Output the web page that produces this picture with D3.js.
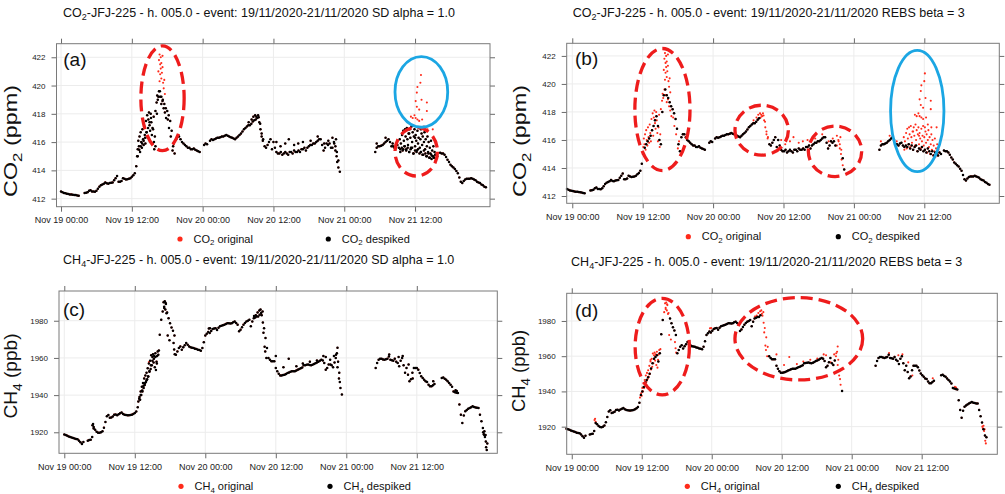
<!DOCTYPE html>
<html>
<head>
<meta charset="utf-8">
<script src="https://cdn.jsdelivr.net/npm/d3@7"></script>
<style>
body { margin: 0; background: #fff; }
svg { display: block; font-family: "Liberation Sans", Arial, sans-serif; }
</style>
</head>
<body>
<svg id="chart" width="1005" height="494"></svg>
<script>
"use strict";

// time is counted in hours from Nov 19 2020 00:00, series are sampled every 15 minutes
var startTime = new Date(2020, 10, 19, 0, 0);
var stepHours = 0.25;
var timeTicks = [0, 12, 24, 36, 48, 60];
var co2Ticks = [412, 414, 416, 418, 420, 422];
var ch4Ticks = [1920, 1940, 1960, 1980];

var co2Series = [
    412.5, 412.45, 412.4, 412.38,
    412.35, 412.33, 412.3, 412.3,
    412.28, 412.26, 412.25, 412.22,
    412.2, null, null, null,
    412.4, 412.42, 412.45, 412.55,
    412.6, 412.5, 412.5, 412.48,
    412.55, 412.7, 412.85, 412.95,
    413.0, 413.05, 413.15, 413.08,
    413.05, 413.1, 413.12, 413.15,
    413.3, 413.45, 413.6, 413.2,
    413.2, 413.25, 413.45, 413.4,
    413.35, 413.38, 413.4, 413.45,
    413.55, 413.65, 413.8, 414.3,
    415.0, 415.45, 415.7, 415.9,
    416.1, 416.3, 416.7, 417.0,
    417.4, 417.7, 417.0, 416.0,
    415.7, 418.0, 419.2, 419.6,
    419.2, 419.0, 418.7, 418.4,
    418.2, 417.9, 417.5, 416.8,
    415.7, 415.2, 416.2, 416.4,
    416.4, 416.2, 416.0, 415.9,
    415.8, 415.7, 415.6, 415.6,
    415.5, 415.5, 415.55, 415.45,
    415.4, 415.35, 415.3, null,
    null, 415.8, 415.9, 415.85,
    null, 416.1, 416.2, 416.15,
    416.2, 416.25, 416.3, 416.3,
    416.35, 416.4, 416.4, 416.45,
    416.5, 416.45, 416.4, 416.35,
    416.3, 416.25, 416.2, 416.3,
    416.4, 416.5, 416.6, 416.75,
    416.9, 417.0, 417.1, 417.2,
    417.2, 417.3, 417.45, 417.55,
    417.6, 417.7, 417.75, 417.3,
    416.6, 416.2, 415.7, 415.6,
    415.8, 416.0, 416.2, 415.5,
    416.0, 415.6, 415.3, 415.2,
    415.2, 415.3, 415.1, 415.2,
    415.3, 415.2, 415.1, 415.3,
    415.3, 415.2, 415.4, 415.3,
    415.3, 415.4, 415.3, 415.5,
    415.5, 415.6, 415.4, 415.6,
    415.7, 415.8, 415.8, 415.9,
    415.9, 416.0, 416.1, 416.2,
    416.2, 415.8, 415.4, 415.6,
    415.9, 415.8, 415.9, 415.6,
    415.6, 416.0, 415.7, 415.3,
    414.7, 413.9, null, null,
    null, null, null, null,
    null, null, null, null,
    null, null, null, null,
    null, null, null, null,
    null, null, null, null,
    null, 415.3, 415.6, 415.7,
    415.7, 415.75, 415.8, 415.9,
    416.0, 416.1, 416.2, 416.0,
    415.7, 415.7, 415.6, 415.75,
    415.8, 415.6, 415.5, 415.6,
    415.5, 415.7, 415.4, 415.6,
    415.3, 415.5, 415.6, 415.2,
    415.4, 415.3, 415.5, 415.2,
    415.3, 415.1, 415.4, 415.2,
    415.0, 415.2, 414.9, 415.1,
    415.0, 414.9, 415.1, 415.0,
    null, 415.25, 415.2, 415.2,
    415.1, 414.95, 414.75, 414.6,
    414.4, 414.3, 414.2, 414.1,
    413.95, 413.8, 413.5, 413.2,
    413.1, 413.25, 413.35, 413.4,
    413.4, 413.4, 413.45, 413.4,
    413.35, 413.3, 413.2, 413.15,
    413.1, 413.0, 412.95, 412.85,
    412.8
];

// noisy readings around the main curve: kept by SD, removed by REBS
var co2Scatter = [
    [12.9, 415.0], [13.0, 415.5], [13.1, 416.1], [13.2, 415.7], [13.3, 416.4], [13.4, 415.3],
    [13.5, 416.7], [13.6, 416.0], [13.7, 415.6], [13.8, 416.9], [13.9, 416.2], [14.0, 415.8],
    [14.1, 417.1], [14.2, 416.5], [14.3, 415.9], [14.4, 417.5], [14.5, 416.7], [14.6, 417.9],
    [14.7, 416.3], [14.8, 417.6], [14.9, 418.1], [15.0, 417.2], [15.1, 416.8], [15.2, 418.0],
    [15.3, 417.4], [15.4, 416.5], [15.5, 415.9], [15.6, 416.9], [15.7, 417.8], [15.8, 415.5],
    [15.9, 416.4], [16.0, 418.2], [16.2, 418.8], [16.3, 419.3], [16.4, 419.0], [16.6, 419.6],
    [16.8, 419.2], [17.0, 418.7], [17.2, 418.9], [17.4, 418.4], [17.6, 418.1], [17.8, 417.7],
    [18.1, 417.6], [18.3, 417.0], [18.6, 416.4], [18.9, 415.4], [19.1, 415.9],
    [31.8, 417.4], [32.3, 417.6], [32.6, 417.8], [32.9, 417.9], [33.1, 417.8], [33.4, 417.9],
    [33.6, 417.4], [33.8, 416.9], [34.0, 416.4], [34.2, 416.1],
    [36.5, 416.0], [37.2, 415.7], [38.0, 415.9], [38.6, 416.2], [39.5, 415.8], [40.2, 415.9],
    [41.0, 416.0], [42.3, 416.1], [43.5, 416.4], [44.6, 415.9], [45.3, 416.1], [46.0, 416.3],
    [46.3, 415.9], [46.5, 415.4], [46.6, 416.2], [46.7, 415.0], [46.8, 414.6], [47.0, 414.2],
    [53.5, 415.9], [55.0, 416.3], [56.2, 415.9],
    [57.4, 416.2], [57.5, 415.3], [57.6, 415.9], [57.8, 416.5], [57.9, 415.4], [58.0, 416.8],
    [58.1, 416.1], [58.2, 415.7], [58.3, 416.9], [58.4, 416.4], [58.5, 415.5], [58.6, 417.0],
    [58.7, 416.2], [58.8, 415.8], [58.9, 416.6], [59.0, 415.3], [59.0, 416.6], [59.1, 416.9],
    [59.2, 416.3], [59.3, 415.6], [59.4, 417.1], [59.5, 416.0], [59.6, 416.7], [59.7, 415.2],
    [59.8, 416.4], [59.9, 416.9], [60.0, 415.7], [60.0, 416.3], [60.1, 416.5], [60.2, 416.1],
    [60.3, 415.4], [60.4, 416.8], [60.5, 415.9], [60.6, 416.3], [60.7, 417.0], [60.8, 415.6],
    [60.9, 416.2], [61.0, 415.3], [61.0, 416.9], [61.1, 416.6], [61.2, 415.8], [61.3, 416.4],
    [61.4, 415.1], [61.5, 416.0], [61.6, 416.7], [61.7, 415.5], [61.8, 416.2], [61.9, 415.0],
    [62.0, 415.7], [62.1, 416.4], [62.2, 415.3], [62.3, 416.0], [62.4, 414.9], [62.5, 415.6],
    [62.6, 415.2], [62.7, 416.1], [62.8, 414.8], [62.9, 415.4], [63.0, 415.0], [63.1, 415.7],
    [63.2, 414.9], [63.3, 415.3], [63.4, 415.1]
];

// high spikes removed by both methods
var co2Spikes = [
    [16.5, 421.0], [16.6, 421.8], [16.7, 422.2], [16.7, 420.3], [16.8, 421.5], [16.8, 420.8],
    [16.9, 422.0], [16.9, 421.2], [17.0, 421.6], [17.0, 420.5], [17.1, 420.9], [17.2, 421.3],
    [17.2, 422.1], [17.3, 420.2], [17.4, 419.8], [17.5, 420.4], [17.6, 419.4],
    [59.3, 417.8], [59.6, 417.7], [59.9, 417.9], [60.1, 418.9], [60.1, 417.7], [60.3, 419.5],
    [60.3, 418.5], [60.4, 419.9], [60.4, 417.6], [60.7, 418.3], [60.7, 417.5], [60.9, 420.2],
    [61.0, 420.75], [61.1, 419.0], [61.2, 417.6], [61.5, 417.1], [62.0, 418.8], [62.0, 418.2],
    [62.1, 416.9], [63.0, 416.9]
];

// stretches of the main curve also flagged by REBS
var co2RebsFlags = [[33.0, 34.25], [46.0, 46.75]];

var ch4Series = [
    1918.8, 1918.5, 1918.2, 1917.8,
    1917.5, 1917.2, 1916.9, 1916.6,
    1916.4, 1916.2, 1915.5, 1914.6,
    1913.7, 1914.8, null, null,
    1915.5, 1915.8, 1916.0, 1917.5,
    1922.0, 1921.4, 1920.3, 1919.8,
    1919.7, 1920.0, 1920.6, 1922.5,
    1925.5, 1928.6, 1929.3, 1927.8,
    1928.0, 1928.5, 1929.5, 1929.6,
    1929.2, 1929.7, 1930.2, 1930.6,
    1929.9, 1929.5, 1929.3, 1929.1,
    1929.1, 1929.3, 1929.5, 1929.9,
    1930.4, 1931.2, 1933.5, 1938.0,
    1940.0, 1942.5, 1945.0, 1946.5,
    1948.0, 1950.0, 1953.0, 1956.0,
    1958.5, 1959.5, 1960.5, 1957.0,
    1961.7, 1972.5, 1980.5, 1985.0,
    1986.8, 1989.5, 1984.5, 1981.4,
    1978.7, 1976.4, 1974.6, 1972.0,
    1961.7, 1963.5, 1965.3, 1966.2,
    1964.4, 1965.7, 1966.8, 1968.0,
    1967.1, 1966.2, 1965.7, 1965.5,
    1965.3, 1965.0, 1964.8, 1964.4,
    1964.2, 1963.9, 1965.3, 1968.5,
    1972.0, 1973.0, 1974.0, 1973.4,
    1974.5, 1975.5, 1975.8, 1976.0,
    1975.0, 1976.2, 1977.0, 1977.3,
    1977.6, 1977.9, 1978.3, 1978.7,
    1978.7, 1978.5, 1978.7, 1979.2,
    1979.6, 1978.8, 1977.9, 1974.3,
    1975.2, 1976.5, 1977.9, 1978.8,
    1979.6, 1980.0, 1980.5, 1977.0,
    1979.6, 1981.4, 1981.8, 1982.3,
    1982.3, 1983.2, 1984.1, 1985.0,
    1976.0, 1970.7, 1965.3, 1960.0,
    1959.0, 1958.2, 1958.2, 1958.2,
    1954.6, 1952.8, 1951.5, 1950.6,
    1950.6, 1950.8, 1951.0, 1951.4,
    1951.9, 1952.2, 1952.6, 1952.8,
    1952.8, 1952.9, 1953.3, 1953.7,
    1954.0, 1954.4, 1954.8, 1956.0,
    1956.1, 1956.3, 1956.4, 1956.2,
    1956.0, 1956.3, 1956.7, 1957.2,
    1957.6, 1958.0, 1958.5, 1959.0,
    1958.6, 1957.3, 1953.7, 1954.6,
    1956.5, 1959.0, 1956.0, 1955.0,
    1957.5, 1961.7, 1955.0, 1949.0,
    1943.8, 1940.3, null, null,
    null, null, null, null,
    null, null, null, null,
    null, null, null, null,
    null, null, null, null,
    null, null, null, null,
    1954.6, 1957.3, 1959.0, 1959.5,
    1959.5, 1959.2, 1959.0, 1959.3,
    1959.6, 1960.8, 1959.0, 1958.8,
    1958.5, 1959.6, 1958.0, 1957.3,
    1955.5, 1958.5, 1959.9, 1956.0,
    1952.0, 1954.6, 1951.0, 1947.5,
    1948.5, 1952.0, 1954.6, 1954.6,
    1954.6, 1953.7, 1951.9, 1950.1,
    1949.2, 1948.3, 1947.4, 1947.0,
    1945.6, 1944.7, 1944.7, 1945.3,
    1946.0, null, null, null,
    null, 1949.2, 1949.5, 1948.8,
    1948.3, 1947.4, 1946.5, 1945.6,
    1944.5, 1942.0, 1941.6, 1941.3,
    1941.1, 1935.0, 1929.5, 1925.0,
    1929.0, 1931.3, 1932.0, 1932.6,
    1933.1, 1933.5, 1934.0, 1933.6,
    1933.4, 1933.2, 1933.1, 1929.5,
    1925.9, 1922.3, 1918.5, 1915.0,
    1914.0
];

var ch4Scatter = [
    [4.8, 1923.8], [4.9, 1924.5], [5.0, 1922.8],
    [12.6, 1936.5], [12.8, 1939.0], [12.9, 1937.5], [13.0, 1942.0], [13.1, 1940.0], [13.2, 1944.5],
    [13.3, 1942.0], [13.4, 1946.5], [13.5, 1943.8], [13.6, 1949.0], [13.7, 1945.5], [13.8, 1950.5],
    [13.9, 1947.0], [14.0, 1952.0], [14.1, 1948.5], [14.2, 1954.5], [14.3, 1950.0], [14.4, 1957.0],
    [14.5, 1952.5], [14.6, 1958.5], [14.7, 1954.0], [14.8, 1961.5], [14.9, 1956.0], [15.0, 1960.5],
    [15.1, 1962.0], [15.2, 1957.5], [15.3, 1961.0], [15.4, 1955.0], [15.5, 1962.5], [15.6, 1953.5],
    [15.7, 1958.0], [15.8, 1961.0], [15.9, 1963.5], [16.1, 1964.0],
    [16.9, 1990.0], [17.0, 1987.5], [17.1, 1990.5], [17.2, 1986.0], [17.3, 1989.0], [17.4, 1984.0],
    [17.6, 1972.0], [17.9, 1969.5], [18.6, 1968.0], [18.7, 1964.5], [18.8, 1962.0],
    [24.6, 1975.8], [24.8, 1976.0],
    [32.3, 1982.5], [32.6, 1983.0], [32.9, 1984.5], [33.2, 1985.5], [33.4, 1986.0], [33.6, 1983.0],
    [33.8, 1979.0], [33.9, 1973.5], [34.1, 1966.0], [34.2, 1963.5], [34.4, 1960.0],
    [36.0, 1961.0], [37.3, 1955.0], [38.2, 1959.5], [39.5, 1955.5], [40.6, 1957.0], [41.8, 1958.0],
    [43.0, 1958.6], [44.1, 1961.0], [44.5, 1960.5], [45.3, 1956.5], [45.9, 1961.0], [46.2, 1960.0],
    [46.4, 1962.5], [46.5, 1965.5], [46.6, 1958.0], [46.8, 1952.0], [46.9, 1947.0],
    [55.3, 1961.8], [56.9, 1960.5], [57.6, 1961.0], [58.6, 1956.5], [59.3, 1949.0], [62.8, 1947.5],
    [66.6, 1942.6], [66.8, 1942.2],
    [71.3, 1920.0], [71.4, 1919.0], [71.5, 1920.5], [71.6, 1917.5], [71.7, 1918.5], [71.8, 1912.0],
    [71.9, 1910.5]
];

var ch4Spikes = [[14.4, 1957.8]];

var ch4RebsFlags = [[16.75, 17.5], [33.5, 34.5], [46.25, 47.0]];

var gases = {
    co2: {base: 'CO', sub: '2', unit: ' (ppm)', series: co2Series, scatter: co2Scatter, spikes: co2Spikes,
          rebsFlags: co2RebsFlags, ticks: co2Ticks},
    ch4: {base: 'CH', sub: '4', unit: ' (ppb)', series: ch4Series, scatter: ch4Scatter, spikes: ch4Spikes,
          rebsFlags: ch4RebsFlags, ticks: ch4Ticks}
};

var titleRest = '-JFJ-225 - h. 005.0 - event: 19/11/2020-21/11/2020 ';

var panels = [
    {letter: '(a)', gas: 'co2', method: 'sd', methodText: 'SD alpha = 1.0', shift: 0,
     box: {left: 56.5, top: 43.7, right: 490, bottom: 206.7},
     xDomain: [-0.76, 72.7], yDomain: [411.43, 422.96],
     title: {x: 259, y: 17}, ylab: {x: 17, y: 141, length: 112},
     letterPos: {x: 63.3, y: 66}, legend: {x1: 180, x2: 328.3, y: 239},
     ellipses: [
         {cx: 17.2, cy: 419.1, rx: 3.67, ry: 3.71, kind: 'red'},
         {cx: 60.2, cy: 415.32, rx: 3.6, ry: 1.72, kind: 'red'},
         {cx: 61.07, cy: 419.55, rx: 4.46, ry: 2.5, kind: 'blue'}
     ]},
    {letter: '(b)', gas: 'co2', method: 'rebs', methodText: 'REBS beta = 3', shift: -0.9,
     box: {left: 566.7, top: 43.3, right: 999.3, bottom: 203.3},
     xDomain: [-0.95, 72.78], yDomain: [411.48, 422.9],
     title: {x: 768.8, y: 17}, ylab: {x: 526, y: 141, length: 112},
     letterPos: {x: 575, y: 65}, legend: {x1: 688.3, x2: 838.3, y: 236.7},
     ellipses: [
         {cx: 15.37, cy: 418.17, rx: 4.69, ry: 4.36, kind: 'red'},
         {cx: 32.28, cy: 416.7, rx: 4.55, ry: 1.78, kind: 'red'},
         {cx: 44.78, cy: 415.19, rx: 4.55, ry: 1.8, kind: 'red'},
         {cx: 58.8, cy: 418.07, rx: 4.55, ry: 4.33, kind: 'blue'}
     ]},
    {letter: '(c)', gas: 'ch4', method: 'sd', methodText: 'SD alpha = 1.0', shift: 0,
     box: {left: 59, top: 291, right: 497.3, bottom: 453.3},
     xDomain: [-0.9, 73.7], yDomain: [1908.7, 1996.0],
     title: {x: 258.7, y: 264}, ylab: {x: 17, y: 376, length: 85},
     letterPos: {x: 63, y: 316}, legend: {x1: 181, x2: 330, y: 486.3},
     ellipses: []},
    {letter: '(d)', gas: 'ch4', method: 'rebs', methodText: 'REBS beta = 3', shift: -0.9,
     box: {left: 566.7, top: 293.3, right: 997.3, bottom: 454.3},
     xDomain: [-0.86, 72.96], yDomain: [1904.3, 1995.7],
     title: {x: 766.7, y: 265.5}, ylab: {x: 525, y: 371, length: 82},
     letterPos: {x: 575, y: 317}, legend: {x1: 687.3, x2: 838.3, y: 486.3},
     ellipses: [
         {cx: 15.51, cy: 1965.4, rx: 4.66, ry: 27.4, kind: 'red'},
         {cx: 38.94, cy: 1969.9, rx: 10.94, ry: 23.4, kind: 'red'}
     ]}
];

var colors = {original: '#ff2a1a', despiked: '#000', ring: '#ee1c1c', blue: '#1ba6e3',
              grid: '#ececec', frame: '#7a7a7a', tick: '#6a6a6a', text: '#222'};

function timeAt(h) {
    return d3.timeMinute.offset(startTime, Math.round(h * 60));
}

function gridPoints(values) {
    var out = [];
    values.forEach(function(v, i) {
        if (v !== null) {
            out.push([i * stepHours, v]);
        }
    });
    return out;
}

function isFlagged(h, ranges) {
    return ranges.some(function(r) { return h >= r[0] && h <= r[1]; });
}

// writes "CO2..." style text with a subscript digit
function gasText(text, gas, rest, size) {
    var sub = size * 0.72;
    var drop = size * 0.24;
    text.append('tspan').text(gas.base);
    text.append('tspan').attr('font-size', sub).attr('dy', drop).text(gas.sub);
    text.append('tspan').attr('dy', -drop).text(rest);
}

var svg = d3.select('#chart');
var timeFormat = d3.timeFormat('%b %d %H:%M');

panels.forEach(function(p) {
    var gas = gases[p.gas];
    var b = p.box;
    var g = svg.append('g').attr('class', 'panel');

    var x = d3.scaleTime()
        .domain([timeAt(p.xDomain[0]), timeAt(p.xDomain[1])])
        .range([b.left, b.right]);
    var y = d3.scaleLinear()
        .domain(p.yDomain)
        .range([b.bottom, b.top]);
    var tickDates = timeTicks.map(timeAt);

    // grid
    g.append('g').selectAll('line.vgrid').data(tickDates).enter()
        .append('line')
            .attr('x1', x).attr('x2', x)
            .attr('y1', b.top).attr('y2', b.bottom)
            .attr('stroke', colors.grid).attr('stroke-width', 1);
    g.append('g').selectAll('line.hgrid').data(gas.ticks).enter()
        .append('line')
            .attr('y1', y).attr('y2', y)
            .attr('x1', b.left).attr('x2', b.right)
            .attr('stroke', colors.grid).attr('stroke-width', 1);

    // axes on all four sides, labels only bottom and left
    var axes = [
        {axis: d3.axisBottom(x).tickValues(tickDates).tickFormat(timeFormat), at: 'translate(0,' + b.bottom + ')', size: 9},
        {axis: d3.axisTop(x).tickValues(tickDates).tickFormat(''), at: 'translate(0,' + b.top + ')'},
        {axis: d3.axisLeft(y).tickValues(gas.ticks).tickFormat(d3.format('d')), at: 'translate(' + b.left + ',0)', size: 8},
        {axis: d3.axisRight(y).tickValues(gas.ticks).tickFormat(''), at: 'translate(' + b.right + ',0)'}
    ];
    axes.forEach(function(a) {
        var ag = g.append('g')
            .attr('transform', a.at)
            .call(a.axis.tickSize(5).tickSizeOuter(0).tickPadding(a.size === 8 ? 6 : 5));
        ag.select('.domain').remove();
        ag.selectAll('line').attr('stroke', colors.tick);
        ag.selectAll('text')
            .attr('fill', colors.text)
            .attr('font-size', a.size || 9)
            .attr('font-family', '"Liberation Sans", Arial, sans-serif');
    });

    // points: full original record in red under the despiked one in black
    var base = gridPoints(gas.series);
    var original = base.concat(gas.scatter, gas.spikes);
    var despiked;
    if (p.method === 'sd') {
        despiked = base.concat(gas.scatter);
    } else {
        despiked = base.filter(function(d) { return !isFlagged(d[0], gas.rebsFlags); });
    }
    var px = function(d) { return x(timeAt(d[0] + p.shift)); };
    var py = function(d) { return y(d[1]); };

    g.append('g').selectAll('circle').data(original).enter()
        .append('circle')
            .attr('cx', px).attr('cy', py)
            .attr('r', 1.05)
            .attr('fill', colors.original);
    g.append('g').selectAll('circle').data(despiked).enter()
        .append('circle')
            .attr('cx', px).attr('cy', py)
            .attr('r', 1.25)
            .attr('fill', colors.despiked);

    // frame
    g.append('rect')
        .attr('x', b.left).attr('y', b.top)
        .attr('width', b.right - b.left).attr('height', b.bottom - b.top)
        .attr('fill', 'none')
        .attr('stroke', colors.frame)
        .attr('stroke-width', 1);

    // hand-drawn style annotation rings
    g.append('g').selectAll('ellipse').data(p.ellipses).enter()
        .append('ellipse')
            .attr('cx', function(e) { return x(timeAt(e.cx)); })
            .attr('cy', function(e) { return y(e.cy); })
            .attr('rx', function(e) { return x(timeAt(e.cx + e.rx)) - x(timeAt(e.cx)); })
            .attr('ry', function(e) { return y(e.cy - e.ry) - y(e.cy); })
            .attr('fill', 'none')
            .attr('stroke', function(e) { return e.kind === 'blue' ? colors.blue : colors.ring; })
            .attr('stroke-width', function(e) { return e.kind === 'blue' ? 2.8 : 3.3; })
            .attr('stroke-dasharray', function(e) { return e.kind === 'blue' ? null : '12,6'; });

    g.append('text')
        .attr('x', p.letterPos.x).attr('y', p.letterPos.y)
        .attr('font-size', 19)
        .attr('fill', '#111')
        .text(p.letter);

    // title
    var title = g.append('text')
        .attr('x', p.title.x).attr('y', p.title.y)
        .attr('text-anchor', 'middle')
        .attr('font-size', 12.5)
        .attr('fill', '#111');
    gasText(title, gas, titleRest + p.methodText, 12.5);

    // y label
    var ylab = g.append('text')
        .attr('transform', 'translate(' + p.ylab.x + ',' + p.ylab.y + ') rotate(-90)')
        .attr('text-anchor', 'middle')
        .attr('font-size', 19)
        .attr('fill', '#111')
        .attr('textLength', p.ylab.length)
        .attr('lengthAdjust', 'spacingAndGlyphs');
    gasText(ylab, gas, gas.unit, 19);

    // legend
    var items = [
        {x: p.legend.x1, color: colors.original, label: ' original'},
        {x: p.legend.x2, color: colors.despiked, label: ' despiked'}
    ];
    items.forEach(function(it) {
        g.append('circle')
            .attr('cx', it.x).attr('cy', p.legend.y)
            .attr('r', 2.6)
            .attr('fill', it.color);
        var t = g.append('text')
            .attr('x', it.x + 13.5).attr('y', p.legend.y + 3.6)
            .attr('font-size', 11)
            .attr('fill', '#111');
        gasText(t, gas, it.label, 11);
    });
});
</script>
</body>
</html>
